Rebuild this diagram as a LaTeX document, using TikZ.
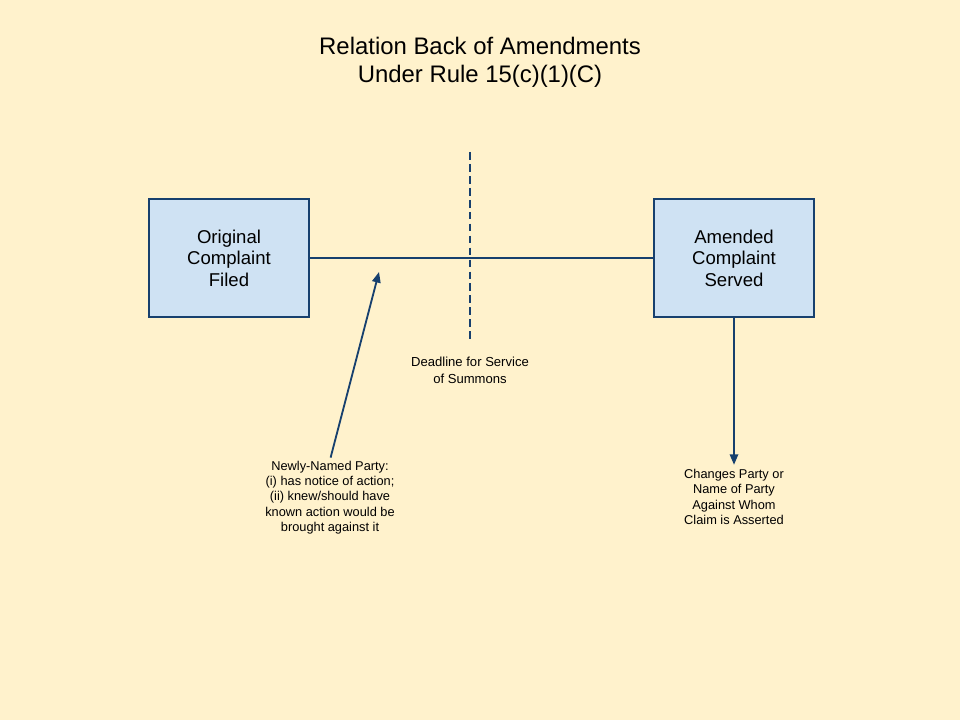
\documentclass[tikz,border=0pt]{standalone}
\usepackage{fontspec}
\setmainfont{Liberation Sans}
\usetikzlibrary{arrows.meta}
\definecolor{paper}{HTML}{FFF2CC}
\definecolor{boxfill}{HTML}{CFE2F3}
\definecolor{navy}{HTML}{17406E}
\begin{document}
\begin{tikzpicture}[x=0.025cm, y=-0.025cm,
  box/.style={draw=navy, fill=boxfill, line width=1.3pt, minimum width=4cm, minimum height=2.95cm, align=center, font=\fontsize{13.2}{15.3}\selectfont},
  note/.style={align=center, inner sep=0pt, font=\fontsize{9.1}{10.9}\selectfont},
  link/.style={navy, line width=1.3pt},
  tip/.style={-{Triangle[length=7.5pt,width=6pt]}}]
  \fill[paper] (0,0) rectangle (960,720);
  \node[align=center, inner sep=0pt, font=\fontsize{17}{19.8}\selectfont] (title) at (480,62) {Relation Back of Amendments\\Under Rule 15(c)(1)(C)};
  \node[box] (orig) at (229,258) {Original\\Complaint\\Filed};
  \node[box] (amend) at (734,258) {Amended\\Complaint\\Served};
  \draw[link] (orig) -- (amend);
  % deadline marker
  \coordinate (dtop) at (470,152);
  \coordinate (dbot) at (470,342);
  \draw[link, dash pattern=on 5.5pt off 3pt] (dtop) -- (dbot);
  \node[note, font=\fontsize{9.3}{12}\selectfont] (deadline) at (470,370.5) {Deadline for Service\\of Summons};
  \node[note] (newparty) at (330,497.5) {Newly-Named Party:\\(i) has notice of action;\\(ii) knew/should have\\known action would be\\brought against it};
  \node[note] (changes) at (734,497) {Changes Party or\\Name of Party\\Against Whom\\Claim is Asserted};
  \coordinate (hit) at (379,272);
  \draw[link, tip] (newparty.north) ++(0.6,-3) -- (hit);
  \draw[link, tip] (amend.south) -- ([yshift=3pt]changes.north);
\end{tikzpicture}
\end{document}
